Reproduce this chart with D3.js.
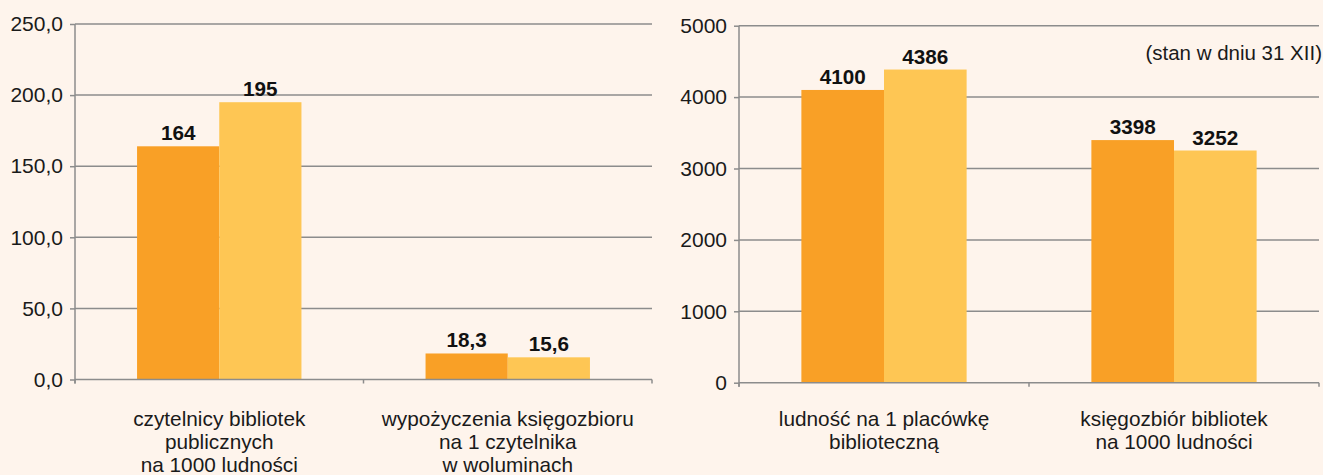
<!DOCTYPE html>
<html>
<head>
<meta charset="utf-8">
<script src="https://cdn.jsdelivr.net/npm/d3@7"></script>
<style>
  html, body { margin: 0; padding: 0; background: #fef4ec; }
  svg { display: block; font-family: "Liberation Sans", Arial, sans-serif; }
</style>
</head>
<body>
<div id="chart"></div>
<script>
(function(){
// Lewy wykres
const leftCategories = [
    ["czytelnicy bibliotek", "publicznych", "na 1000 ludności"],
    ["wypożyczenia księgozbioru", "na 1 czytelnika", "w woluminach"]
];
const leftSeriesA = [164, 18.3];
const leftSeriesB = [195, 15.6];
const leftLabelsA = ["164", "18,3"];
const leftLabelsB = ["195", "15,6"];
const leftTicks = [0, 50, 100, 150, 200, 250];

// Prawy wykres
const rightCategories = [
    ["ludność na 1 placówkę", "biblioteczną"],
    ["księgozbiór bibliotek", "na 1000 ludności"]
];
const rightSeriesA = [4100, 3398];
const rightSeriesB = [4386, 3252];
const rightTicks = [0, 1000, 2000, 3000, 4000, 5000];

const note = "(stan w dniu 31 XII)";

const width = 1323, height = 475;
const colorA = "#f9a026";   // ciemniejszy pomarańcz
const colorB = "#fec654";   // jasny żółty
const gridColor = "#8c8c8c";

const svg = d3.select("#chart").append("svg")
    .attr("width", width)
    .attr("height", height);

svg.append("rect").attr("width", width).attr("height", height).attr("fill", "#fef4ec");

function drawPanel(cfg) {
    const g = svg.append("g");
    const n = cfg.categories.length;

    const x = d3.scaleBand()
        .domain(d3.range(n))
        .range([cfg.x0, cfg.x1])
        .padding(0);

    const xSub = d3.scaleBand()
        .domain(["a", "b"])
        .range([0, x.bandwidth()])
        .paddingInner(0)
        .paddingOuter(0.755);

    const y = d3.scaleLinear()
        .domain([0, cfg.max])
        .range([cfg.y0, cfg.y1]);

    // linie siatki
    g.append("g")
        .selectAll("line")
        .data(cfg.ticks.filter(t => t > 0))
        .join("line")
        .attr("x1", cfg.x0)
        .attr("x2", cfg.x1)
        .attr("y1", d => y(d))
        .attr("y2", d => y(d))
        .attr("stroke", gridColor)
        .attr("stroke-width", 1.5);

    // słupki
    const rows = d3.range(n).map(i => ({
        i: i,
        a: cfg.seriesA[i],
        b: cfg.seriesB[i]
    }));

    const grp = g.append("g")
        .selectAll("g")
        .data(rows)
        .join("g")
        .attr("transform", d => `translate(${x(d.i)},0)`);

    grp.append("rect")
        .attr("x", xSub("a"))
        .attr("width", xSub.bandwidth())
        .attr("y", d => y(d.a))
        .attr("height", d => y(0) - y(d.a))
        .attr("fill", colorA);

    grp.append("rect")
        .attr("x", xSub("b"))
        .attr("width", xSub.bandwidth())
        .attr("y", d => y(d.b))
        .attr("height", d => y(0) - y(d.b))
        .attr("fill", colorB);

    grp.append("text")
        .attr("x", xSub("a") + xSub.bandwidth() / 2)
        .attr("y", d => y(d.a) - 6)
        .attr("text-anchor", "middle")
        .attr("font-size", 20.7)
        .attr("font-weight", "bold")
        .attr("fill", "#111")
        .text(d => cfg.labelsA[d.i]);

    grp.append("text")
        .attr("x", xSub("b") + xSub.bandwidth() / 2)
        .attr("y", d => y(d.b) - 6)
        .attr("text-anchor", "middle")
        .attr("font-size", 20.7)
        .attr("font-weight", "bold")
        .attr("fill", "#111")
        .text(d => cfg.labelsB[d.i]);

    // oś Y
    const yAxis = d3.axisLeft(y)
        .tickValues(cfg.ticks)
        .tickSize(5)
        .tickPadding(7)
        .tickFormat(cfg.format);

    const ya = g.append("g")
        .attr("transform", `translate(${cfg.x0},0)`)
        .call(yAxis);
    ya.select(".domain").attr("stroke", gridColor).attr("stroke-width", 1.5)
        .attr("d", `M0,${cfg.y1}V${cfg.y0 + 4}`);
    ya.selectAll(".tick line").attr("stroke", gridColor).attr("stroke-width", 1.5);
    ya.selectAll(".tick text")
        .attr("font-size", 21)
        .attr("font-family", "Liberation Sans, Arial, sans-serif")
        .attr("fill", "#1a1a1a");

    // oś X
    g.append("line")
        .attr("x1", cfg.x0).attr("x2", cfg.x1)
        .attr("y1", y(0)).attr("y2", y(0))
        .attr("stroke", gridColor).attr("stroke-width", 1.5);

    g.append("g")
        .selectAll("line")
        .data(d3.range(n + 1))
        .join("line")
        .attr("x1", i => i < n ? x(i) : cfg.x1)
        .attr("x2", i => i < n ? x(i) : cfg.x1)
        .attr("y1", y(0))
        .attr("y2", y(0) + 4)
        .attr("stroke", gridColor).attr("stroke-width", 1.5);

    // etykiety kategorii
    const cat = g.append("g")
        .selectAll("text")
        .data(cfg.categories)
        .join("text")
        .attr("text-anchor", "middle")
        .attr("font-size", 20.8)
        .attr("fill", "#1a1a1a")
        .attr("transform", (d, i) => `translate(${x(i) + x.bandwidth() / 2},${cfg.labelY})`);

    cat.selectAll("tspan")
        .data(d => d)
        .join("tspan")
        .attr("x", 0)
        .attr("y", (d, j) => j * 23)
        .text(d => d);
}

drawPanel({
    categories: leftCategories,
    seriesA: leftSeriesA,
    seriesB: leftSeriesB,
    labelsA: leftLabelsA,
    labelsB: leftLabelsB,
    ticks: leftTicks,
    max: 250,
    format: d => d3.format(".1f")(d).replace(".", ","),
    x0: 75, x1: 652,
    y0: 379.5, y1: 24,
    labelY: 425.5
});

drawPanel({
    categories: rightCategories,
    seriesA: rightSeriesA,
    seriesB: rightSeriesB,
    labelsA: rightSeriesA.map(String),
    labelsB: rightSeriesB.map(String),
    ticks: rightTicks,
    max: 5000,
    format: d => String(d),
    x0: 739, x1: 1319,
    y0: 382.7, y1: 25.7,
    labelY: 426
});

svg.append("text")
    .attr("x", 1322)
    .attr("y", 60)
    .attr("text-anchor", "end")
    .attr("font-size", 20.5)
    .attr("fill", "#1a1a1a")
    .text(note);

})();
</script>
</body>
</html>
